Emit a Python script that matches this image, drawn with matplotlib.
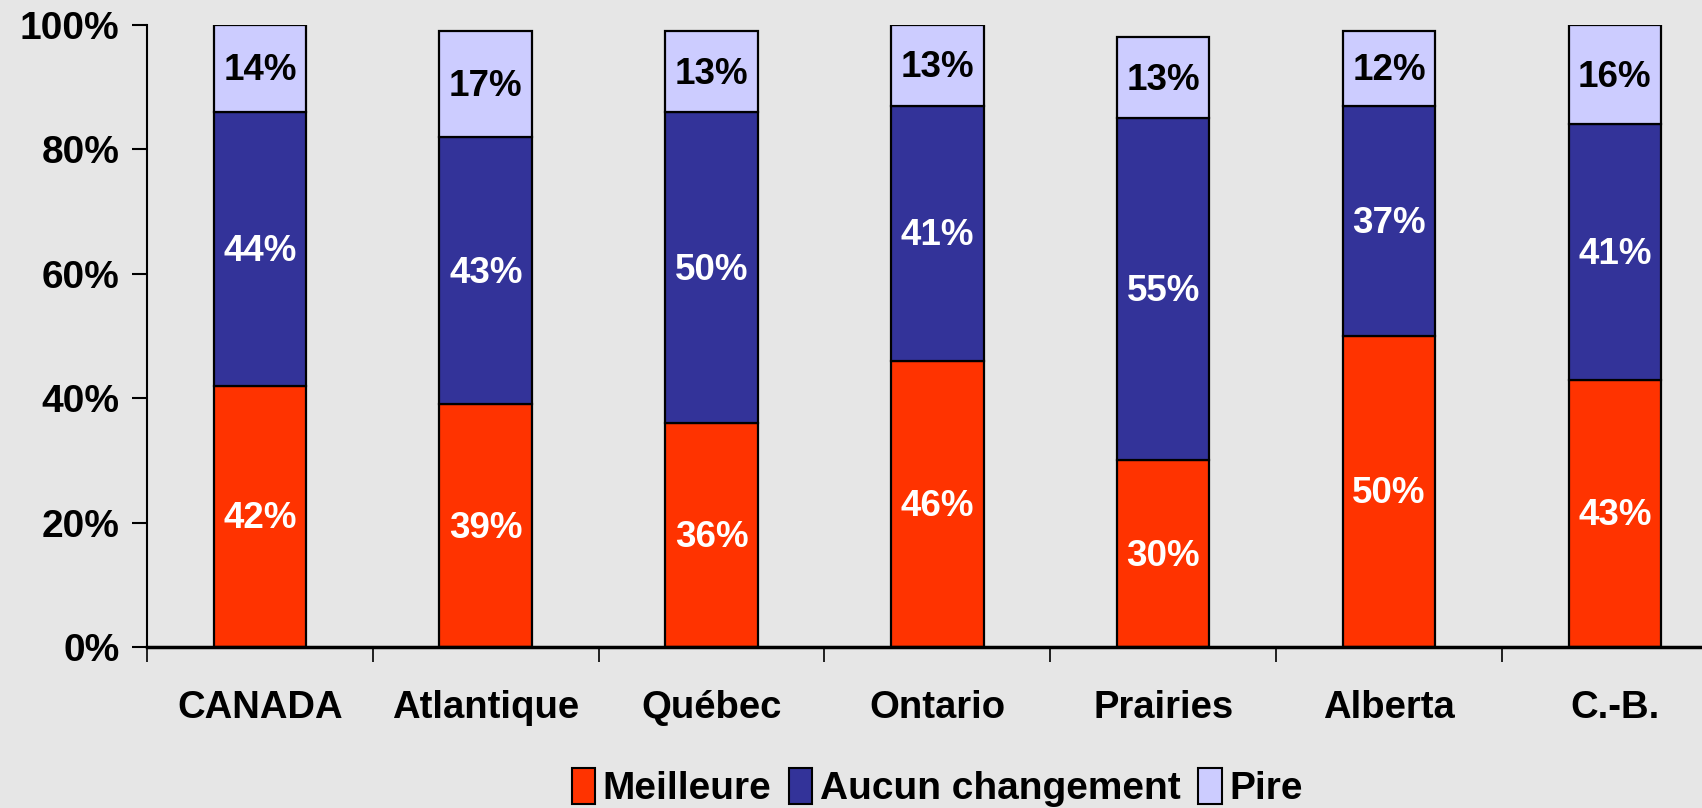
import matplotlib.pyplot as plt
import numpy as np
from matplotlib.patches import Patch

plt.rcParams['font.family'] = ['Liberation Sans', 'DejaVu Sans']
plt.rcParams['font.weight'] = 'bold'

regions = ['CANADA', 'Atlantique', 'Québec', 'Ontario', 'Prairies', 'Alberta', 'C.-B.']
meilleure = [42, 39, 36, 46, 30, 50, 43]
aucun = [44, 43, 50, 41, 55, 37, 41]
pire = [14, 17, 13, 13, 13, 12, 16]
series_names = ['Meilleure', 'Aucun changement', 'Pire']
colors = ['#FF3300', '#333399', '#CCCCFF']
text_colors = ['white', 'white', 'black']

fig = plt.figure(figsize=(17.02, 8.08), dpi=100)
fig.patch.set_facecolor('#e6e6e6')
ax = fig.add_axes([0.0864, 0.1993, 0.9287, 0.7698])
ax.set_facecolor('none')

x = np.arange(len(regions))
bottom = np.zeros(len(regions))
for vals, col, tc in zip([meilleure, aucun, pire], colors, text_colors):
    vals = np.array(vals)
    ax.bar(x, vals, 0.41, bottom=bottom, color=col, edgecolor='black', linewidth=1.6)
    for xi, b, v in zip(x, bottom, vals):
        ax.text(xi, b + v / 2 - 0.4, f'{v}%', ha='center', va='center', color=tc,
                fontsize=26.5, fontweight='bold')
    bottom += vals

ax.set_xlim(-0.5, 6.5)
ax.set_ylim(0, 100)
ax.set_yticks([0, 20, 40, 60, 80, 100])
ax.set_yticklabels(['0%', '20%', '40%', '60%', '80%', '100%'])
ax.set_xticks(x)
ax.set_xticklabels(regions)
ax.set_xticks(np.arange(-0.5, 7, 1), minor=True)
ax.tick_params(axis='x', which='major', length=0, pad=31, labelsize=27.5)
ax.tick_params(axis='x', which='minor', length=11, width=1.2, direction='out')
ax.tick_params(axis='y', length=11, width=1.5, pad=9, labelsize=28)
for s in ['top', 'right']:
    ax.spines[s].set_visible(False)
ax.spines['left'].set_linewidth(1.5)
ax.spines['bottom'].set_linewidth(2.5)

handles = [Patch(facecolor=c, edgecolor='black', linewidth=1.5) for c in colors]
ax.legend(handles, series_names, loc='center', bbox_to_anchor=(0.5, -0.226), ncol=3,
          frameon=False, fontsize=28, handlelength=0.6, handleheight=1.05,
          handletextpad=0.2, columnspacing=0.45)

fig.savefig('out.png', dpi=100, facecolor=fig.get_facecolor())
